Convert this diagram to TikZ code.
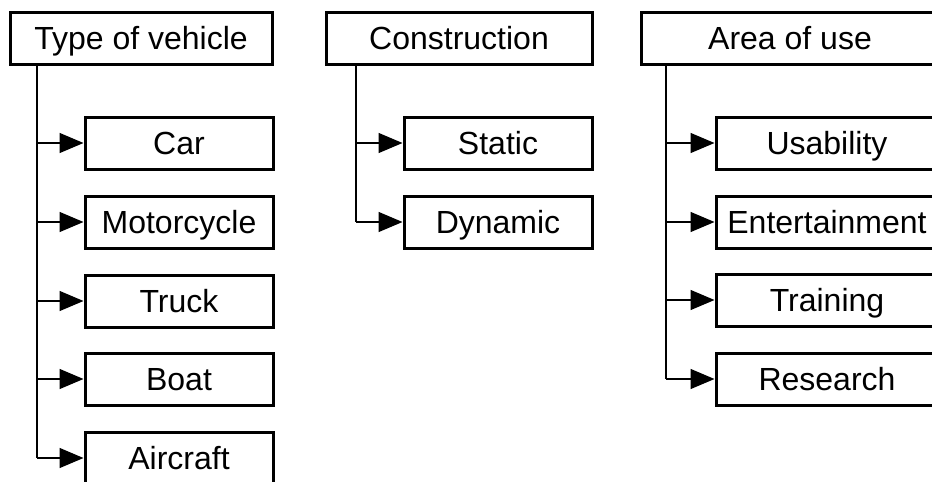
\documentclass[tikz,border=0pt]{standalone}
\usepackage{fontspec}
\setmainfont{Liberation Sans}
\usetikzlibrary{arrows.meta}

\tikzset{
  box/.style={draw=black, line width=3pt, fill=white, inner sep=0pt,
    minimum height=52pt, text height=23pt, text depth=0pt,
    font=\fontsize{32}{37}\selectfont},
  headbox/.style={box},
  itembox/.style={box, minimum width=188pt},
  trunk/.style={draw=black, line width=1.4pt},
  branch/.style={draw=black, line width=1.4pt,
    -{Triangle[length=24pt,width=20pt]}}
}

\begin{document}
\begin{tikzpicture}[x=1pt,y=-1pt]
  \clip (0,0) rectangle (932,482);
  \fill[white] (0,0) rectangle (932,482);

  % Column 1: type of vehicle
  \node[headbox, minimum width=262pt] (h1) at (141,38) {Type of vehicle};
  \node[itembox] (car)   at (179,143) {Car};
  \node[itembox] (moto)  at (179,222) {Motorcycle};
  \node[itembox] (truck) at (179,301) {Truck};
  \node[itembox] (boat)  at (179,379) {Boat};
  \node[itembox] (air)   at (179,458) {Aircraft};
  \coordinate (t1) at (37,64);
  \draw[trunk] (t1) -- (t1 |- air.west);
  \foreach \c in {car,moto,truck,boat,air}
    \draw[branch] (t1 |- \c.west) -- (\c.west);

  % Column 2: construction
  \node[headbox, minimum width=266pt] (h2) at (459,38) {Construction};
  \node[itembox] (static)  at (498,143) {Static};
  \node[itembox] (dynamic) at (498,222) {Dynamic};
  \coordinate (t2) at (356,64);
  \draw[trunk] (t2) -- (t2 |- dynamic.west);
  \foreach \c in {static,dynamic}
    \draw[branch] (t2 |- \c.west) -- (\c.west);

  % Column 3: area of use
  \node[headbox, minimum width=298pt] (h3) at (790,38) {Area of use};
  \node[itembox, minimum width=222pt] (usab)  at (827,143) {Usability};
  \node[itembox, minimum width=222pt] (ent)   at (827,222) {Entertainment};
  \node[itembox, minimum width=222pt] (train) at (827,300) {Training};
  \node[itembox, minimum width=222pt] (res)   at (827,379) {Research};
  \coordinate (t3) at (666,64);
  \draw[trunk] (t3) -- (t3 |- res.west);
  \foreach \c in {usab,ent,train,res}
    \draw[branch] (t3 |- \c.west) -- (\c.west);
\end{tikzpicture}
\end{document}
